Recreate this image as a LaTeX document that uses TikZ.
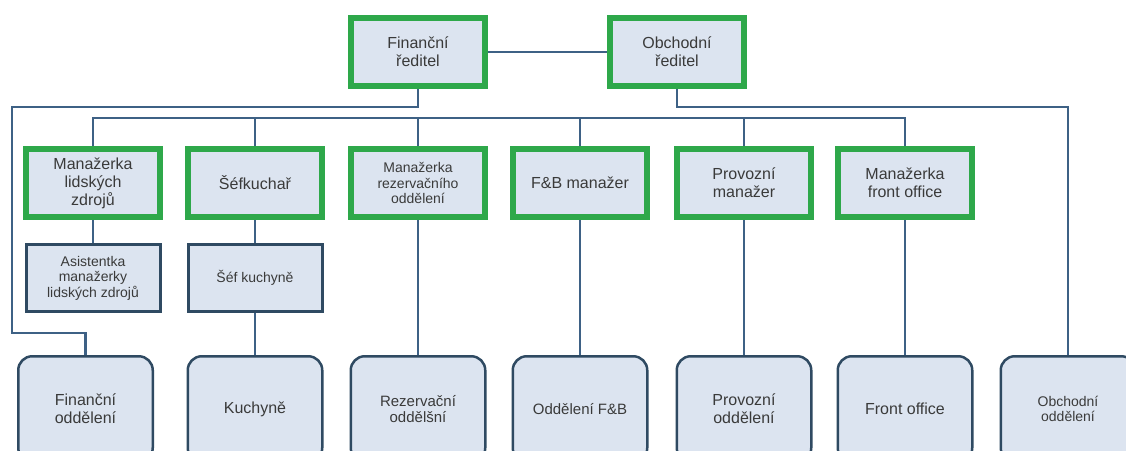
\documentclass[tikz,border=0pt]{standalone}
\usepackage{fontspec}
\setmainfont{Liberation Sans}
\definecolor{grn}{HTML}{2EA84A}
\definecolor{boxfill}{HTML}{DCE4F0}
\definecolor{connc}{HTML}{3E6185}
\definecolor{bordc}{HTML}{2F4A62}
\definecolor{txt}{HTML}{3A3A3A}
\tikzset{
  big/.style={font=\fontsize{16}{18}\selectfont},
  small/.style={font=\fontsize{14}{15.5}\selectfont},
  gbox/.style={draw=grn, line width=6pt, fill=boxfill, text=txt, align=center,
    minimum width=134pt, minimum height=68pt, inner sep=0pt},
  bbox/.style={draw=bordc, line width=3pt, fill=boxfill, text=txt, align=center,
    minimum width=134pt, minimum height=67pt, inner sep=0pt},
  rbox/.style={draw=bordc, line width=2.5pt, fill=boxfill, text=txt, align=center,
    rounded corners=14pt, minimum width=134.5pt, minimum height=105.5pt, inner sep=0pt},
  conn/.style={draw=connc, line width=2.5pt},
}
\begin{document}
\begin{tikzpicture}[x=1pt,y=-1pt]
\useasboundingbox (0,0) rectangle (1126,450);
\fill[white] (0,0) rectangle (1126,450);
% top
\node[gbox,big] (fin) at (418,52) {Finanční\\ředitel};
\node[gbox,big] (ob) at (677,52) {Obchodní\\ředitel};
% middle
\node[gbox,big] (m1) at (93,183) {Manažerka\\lidských\\zdrojů};
\node[gbox,big] (m2) at (255,183) {Šéfkuchař};
\node[gbox,small] (m3) at (418,183) {Manažerka\\rezervačního\\oddělení};
\node[gbox,big] (m4) at (580,183) {F\&B manažer};
\node[gbox,big] (m5) at (744,183) {Provozní\\manažer};
\node[gbox,big] (m6) at (905,183) {Manažerka\\front office};
% assistants
\node[bbox,small] (a1) at (93,278) {Asistentka\\manažerky\\lidských zdrojů};
\node[bbox,small] (a2) at (255,278) {Šéf kuchyně};
% bottom
\node[rbox,big] (b1) at (85.5,409) {Finanční\\oddělení};
\node[rbox,big] (b2) at (255,409) {Kuchyně};
\node[rbox,font=\fontsize{15}{16.5}\selectfont] (b3) at (418,409) {Rezervační\\oddělšní};
\node[rbox,font=\fontsize{15}{16.5}\selectfont] (b4) at (580,409) {Oddělení F\&B};
\node[rbox,big] (b5) at (744,409) {Provozní\\oddělení};
\node[rbox,big] (b6) at (905,409) {Front office};
\node[rbox,small] (b7) at (1068,409) {Obchodní\\oddělení};
% coordinates
\coordinate (L1) at (12,107);
\coordinate (L2) at (12,333);
\coordinate (R1) at (1068,107);
\coordinate (B1) at (93,118);
% connectors
\draw[conn] (fin.east) -- (ob.west);
\draw[conn] (fin.south) |- (L1) -- (L2) -| (b1.north);
\draw[conn] (ob.south) |- (R1) -- (b7.north);
\draw[conn] (m1.north) -- (m1.north |- B1) -- (m6.north |- B1) -- (m6.north);
\foreach \n in {m2,m3,m4,m5} \draw[conn] (\n.north) -- (\n.north |- B1);
\draw[conn] (m1.south) -- (a1.north);
\draw[conn] (m2.south) -- (a2.north);
\draw[conn] (a2.south) -- (b2.north);
\draw[conn] (m3.south) -- (b3.north);
\draw[conn] (m4.south) -- (b4.north);
\draw[conn] (m5.south) -- (b5.north);
\draw[conn] (m6.south) -- (b6.north);
\end{tikzpicture}
\end{document}
